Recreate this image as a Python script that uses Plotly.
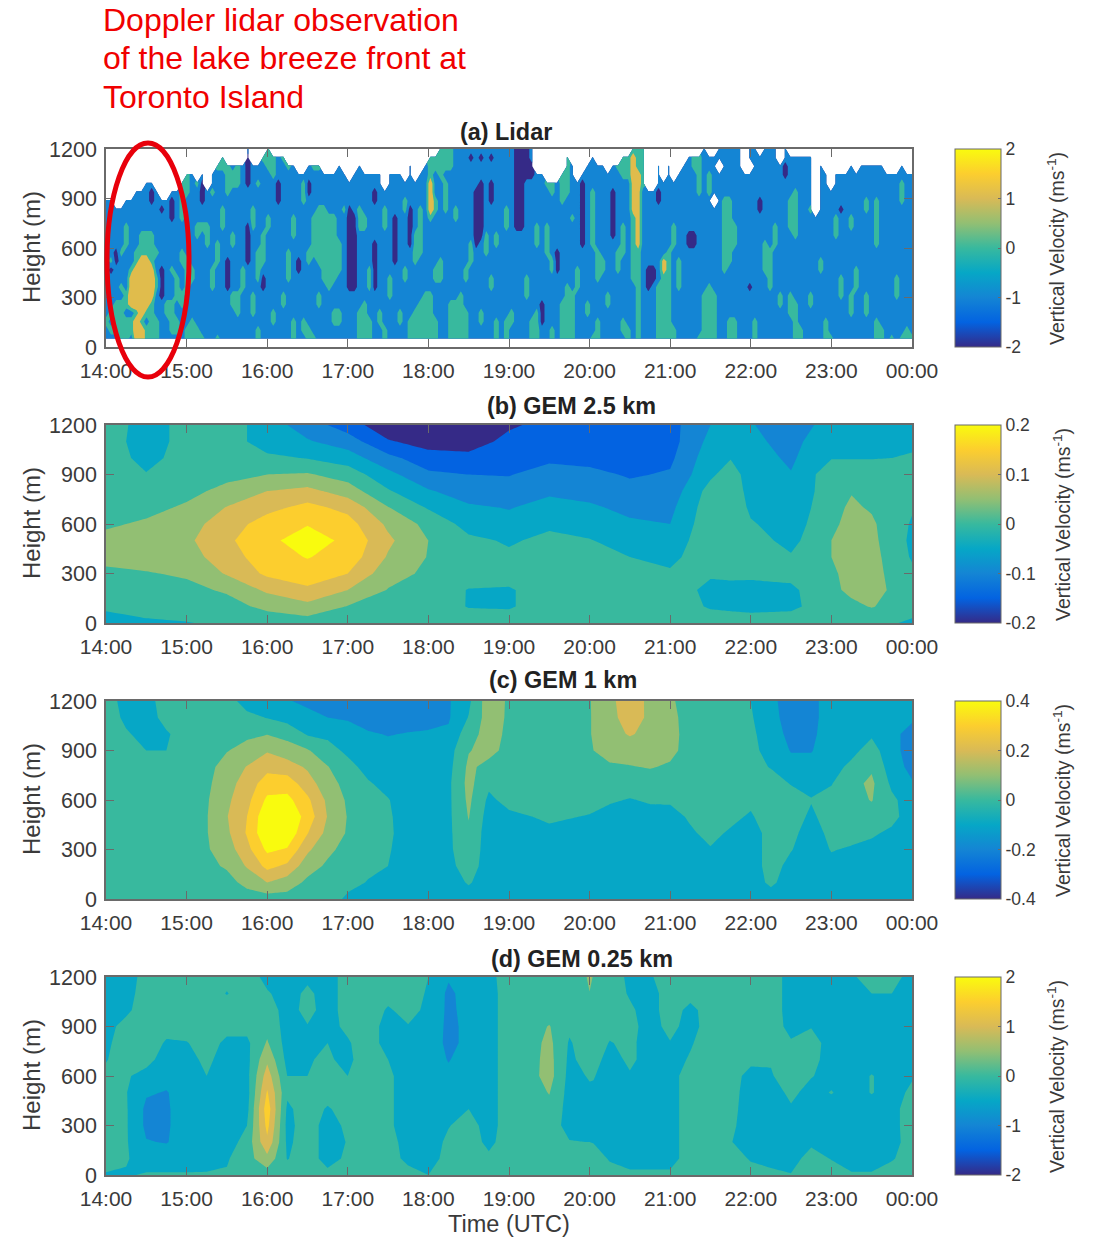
import numpy as np
import plotly.graph_objects as go

W, H = 1099, 1238

# ---------- shared scales ----------
hour_ticks = [14, 15, 16, 17, 18, 19, 20, 21, 22, 23, 24]
hour_labels = ["14:00", "15:00", "16:00", "17:00", "18:00", "19:00", "20:00", "21:00", "22:00", "23:00", "00:00"]
height_ticks = [0, 300, 600, 900, 1200]
heights = [0, 100, 200, 300, 400, 500, 600, 700, 800, 900, 1000, 1100, 1200]
parula = ["#352a87", "#0363e1", "#1485d4", "#06a7c6", "#38b99e", "#92bf73", "#d9ba56", "#fcce2e", "#f9fb0e"]
lidar_band_colours = ["#352a87", "#1485d4", "#38b99e", "#e0bc4c"]

# ---------- (a) lidar: one string per 3.75-min column, bottom (50 m) upward, one letter per height step ----------
lidar_values = {"n": -2.0, "b": -1.0, "g": 0.0, "o": 1.1, "y": 1.5, ".": None}
lidar_columns = [
    "bbgbbbbbbbbbbbbbb", "bgbgbbbbngbbbbbbb", "bggggbbbbnnbbbbb", "gggggbgbbbgbbbbb",
    "gggbggbbbbbgggbbb", "bggbyyyygbbbbbbbb", "yyygyyyyyggbbbbbbb", "yygyyyyyyygggbbbbb",
    "ggbgyyyyyygggbbbbbb", "gggggyyyyggggbbbnnb", "gggbbbggbbgbbbbbbb", "bbbbbnnnnbbbbbbnb",
    "bbbggbbbbbbbbbbbb", "bggggbbbgbbbbbnnnb", "bggbbgggbbbbbbbbbb", "bbbbggbbbggbbbggggg",
    "ggbbbbggggbbbbbbbggg", "gggbbbbggbbbbbbbbbbb", "ggbbbbbbbbbbggbbbbg", "gbbbbbbbbbbbbgbbnnnb",
    "bbbbbbbbbbbgggbbbb", "bbbbbbgggbbbbbbbbgbb", "gbbbbbbbbgggbbbbbbbbg", "bbbbbbbbbbbbbgggbbbbgg",
    "bbbbbbnnnnbbbbbbbgggg", "bbbbggbbbbbggbbbbbggb", "bbbgggbbbbbbbbbbbbggg", "bbbbbbgggbbbbbbbbbbbb",
    "bbbbbbbbbnnnnnbbbbnnnnb", "bbbgggbbbbbbbgggbbbbb", "ggbbbbbggggbbbbbbbgbb", "bbbbbbnnbggggbbbbbbbbg",
    "bbbbbbbbbbbbbggbbbbbggg", "bbggbbbbbbbbbbbbbbbggg", "bbbbbbbbbbbbbbbbnnnbbb", "bbbbggbbbbbbbbbbbbbbbg",
    "bbbbbbbggggbbbbbbbbbg", "gggbbbbbbbbbgggbbbbbb", "bbbbbbbbnnbbbbbbbbbb", "bggbbbbbbbbbbbbbgggb",
    "ggbbbbbbbggbbbbbbnnbb", "gbbbbbbbbbgggggbbbbbg", "bbbbggbbbgggggggbbbbg", "bbbbbbbgggggggggbbbb",
    "bbbbbbgggggggggbbbbb", "bbggbbbggggggggbbbbb", "bbggbbbbggggbbbbbbbbb", "bbbbbbbbbbbbbbbgbbbb.",
    "bbbbbbnnnnnnnnnnbbb", "bbbbbbnnnnnnnnnbbbbb", "ggggbbbbbbbbbgggbbbbb", "gggggbbbbbbbbggbbbbb",
    "gggbbbgggbbbbbbbbbbb", "bbbbbbnnnnnnbbbbnnbb", "bbggbbbbbbbbbbbbbbbb", "ggbbbbbbbbbbbgggbb",
    "bbbbbgggbbbbbbbbbbbb", "bbbbbbbbbnnnnnnbbbbb", "bbggbbbbbbbbbbbbbbbb", "bbbbbbbggbbbbbbggbb",
    "gggbbbbbbbbnnnnnbbbbb", "ggggbbbbbggggbbbbbb", "gggggbbbbbggggggbbbb", "ggggggbbbbbbbbbbbbbbb",
    "ggggggbbbbbbbbgyyyyggg", "gggbbbbggbbbbbbggbbbgg", "bbbbbbbgggbbbbbbbbbgggg", "bbbbbbbbbbbbbbbggggbggg",
    "gggggbbbbbbbbbbbbbbbggg", "gggggbbbbbbbbbggbbbbbbb", "ggggggbbbbbbbbbbbbbbbbb", "ggggbbbggbbbbbbbbbbbbbb",
    "bbbbbbbbbgggbbbbbbbbbnb", "bbbbbbbbbbbnnnnnnnbbbbb", "bbggbbbbbbbbnnnnnnnbbnb", "bbbbbbbbbbgggbbbbbbbbbb",
    "bbbbbbggbbbbbbbbnnnbbnb", "gggbbbbbbbbggbbbbbbbbbb", "bbbbbbbbbbbbbbbbbbbbbbb", "gggbbbbbbbbbbgggbbbbbbb",
    "bbggbbbbbbbbbbbbbbbbbbb", "bbbbbbbbbbbbbnnnnnnnnnn", "bbbbbbbbbbbbbnnnnnnnnnn", "bbbbbgggbbbbbbbbbbbnnnn",
    "gggbbbbbbbbbbbbbbbbnnbb", "ggggbbbbbbbgggbbbbbb", "bbnnnbbbbbbbbbbbbbbb", "bbbbbbbbbbggggbbbbg",
    "ggbbbbbbggbbbbbbbgg", "bbbbbbbbnnnbbbbbbbb", "gggggbbbbbbbbbbbgggg", "gggggggbbbbbbbbbbggggg",
    "ggggggbbbbbbbbgbbbbbb", "bbbbbbgggbbbbbbbbbb", "bbbbbbbbbbbnnnnnnnnb.", "bbbggbbbbbbbbbbbbbbbb",
    "gbbbbbbbbbbgggggggbbbb", "gggbbbbggggbbbbbbbbbb", "bbbbbbbbggbbbbbbbbbbb", "bbbbggbbbbbbbbbbbbbb",
    "bbbbbbbbbbbbnnnnnnbbb", "bbbbbbbbgggbbbbbbbbbg", "bggbbbbbbbggggbbbbbggg", "ggbbbbbbbbbbbbbbbbbggg",
    "bbbbbbbggggggggooooooog", "gggggggggggoooooooooggg", "bbbbbbbbbbbbbbbbbbggggg", "bbbbbbnnnbbbbbbbbb",
    "bbbbbbbnnbbbbbbbbb", "gggggggbbbbbbbbbnnbbb", "ggggggggoobbbbbbbbb", "gggggggggggbbbbbbbbbb",
    "ggbbbbbbbbbgggbbbbb", "bbbbbbggggbbbbbbbbbb", "bbbbbbbbbbbbbbbbbbbbb", "bbbbbbbbbbbnnbbbbbbbbb",
    "bbbbbbbbbbbnnbbbbbbbgg", "gbbbbbbbbbbbbbbbbggggg", "ggggggbbbbbbbbbbbbbbbbb", "gggggggbbbbbbbbbbgggbb",
    "ggggggbbbbbbbbbb.bbbbb", "bbbbbbbbbbbbbbbbbbbb.bb", "bbbbbbbbgggggggggbbbbbb", "gggbbbbbbggggggggbbbbbb",
    "gggbbbbbbbbgggbbbbbbbbb", "bbbbbbbbbbbbbbbbbbbbbbb", "bbbbbbbbbbbbbbbbbbbb", "bbbbbbnbbbbbbbbbbbbb.bb",
    "gggbbbbbbbbbbbbbbbbbbbb", "bbbbbbbbbbbbbbbnnbbbbb.", "bbbbbbbbggggbbbbbbbbbbb", "bbbbbbgggggbbbbbbbbbbbb",
    "bbbbbbbbbbbgggbbbbbbbbb", "bbbbggbbbbbbbbbbbbbbb..", "bbbbbbbbbbbbbbbbbbbnnbb", "bbbgggbbbbbbbggggbbbbb",
    "gggggbbbbbbbggggggbbbb", "ggbbbbbbbbbbbbbbbbbbbb", "bbbbbbbbbbbbbbbbbbbbbb", "bbbbggbbbbbbbbbgbbbbbb",
    "bbbbbbbbbbbbbbb", "bbbbbbbbggbbbbbbbbbbb", "gggbbbbbbbbbbbbbbbbb", "gbbbbbbbbbbbbbbbbb",
    "bbbbbbbbbbbbgggbbbbb", "bbbbbgggbbbbbbbnbbbb", "bbbbbbbbbbbbbbbbbbbb", "bbbgggbbbbbbbggbbbbbb",
    "bbbbbbgggbbbbbbbbbbb", "bbbbbbbbbbbbbbbbbbbbb", "bbbgggbbbbbbbbbggbbbb", "bbbbbbbbbbbbbbbbbbbbb",
    "gggbbbbbbbbggggggbbbb", "ggbbbbbbbbbbbbbbbbbbb", "bbbbbbbbbbbbbbbbbbbb", "gbbbbbbbbbbbbbbbbbbb",
    "bbbbbgggbbbbbbbbbbbb", "gbbbbbbbbbbbbbbbgggbb", "ggbbbbbbbbbbbbbbbbbb", "gbbbbbbbbbbbbbbbbbbb",
]

# ---------- (b) GEM 2.5 km: values in units of 0.05 m/s, one list per time, bottom to top ----------
gem25_step = 0.05
gem25_times = [14, 14.5, 15, 15.5, 16, 16.5, 17, 17.5, 18, 18.5, 19, 19.5, 20, 20.5, 21, 21.5, 21.75, 22, 22.5, 23, 23.25, 23.5, 24]
gem25_columns = [
    [-1, -.3, 0, .35, .7, .7, .4, .2, .1, 0, 0, -.1, 0],
    [-.7, 0, .2, .45, .8, 1, .6, .3, .1, -.45, -.8, -.9, -.9],
    [-.55, .05, .3, .6, 1.1, 1.3, 1.1, .6, .3, .1, -.1, -.2, -.2],
    [-.3, .2, .6, 1.6, 2, 2.3, 2, 1.55, .7, .3, 0, 0, 0],
    [0, .7, 1.7, 2.7, 3.1, 3.3, 2.95, 2.2, 1.5, .5, -.3, -1, -1],
    [0, 1.2, 2.3, 3.1, 3.55, 3.9, 3.45, 2.8, 1.8, .6, -.55, -1.4, -2],
    [0, .45, 1.5, 2.5, 3.1, 3.3, 2.9, 2.2, 1, .05, -1, -2, -3],
    [0, .2, .45, .9, 1.4, 1.7, 1.3, .55, -.4, -1.2, -2.2, -3.4, -4.2],
    [0, .05, .15, .3, .45, .5, .2, -.6, -1.4, -2.3, -3.1, -3.9, -4.3],
    [0, -.55, -.55, 0, 0, -.3, -.85, -1.35, -2, -2.5, -3.2, -4, -4.3],
    [0, -.6, -.6, -.1, -.35, -.6, -1.2, -1.55, -2.1, -2.55, -3, -3.2, -3.65],
    [0, 0, 0, 0, -.05, -.3, -.65, -1.2, -1.65, -2.1, -2.7, -3, -3.2],
    [0, 0, 0, 0, -.15, -.45, -.9, -1.35, -1.85, -2.25, -2.8, -3, -3],
    [0, 0, 0, -.2, -.5, -.9, -1.35, -1.75, -2.2, -2.6, -2.9, -3, -3],
    [0, 0, -.1, -.4, -.7, -1.1, -1.5, -1.75, -2.1, -2.4, -2.7, -2.9, -2.85],
    [0, -.6, -.7, -.4, 0, .2, .2, .1, -.1, -.7, -.9, -1.2, -1.5],
    [0, -.7, -.7, -.35, 0, .3, .3, .3, .2, 0, -.55, -.9, -1.2],
    [0, -.8, -.8, -.3, 0, -.1, -.4, -.7, -.9, -1, -1.1, -1.3, -1.45],
    [0, -.7, -.7, -.2, -.4, -.8, -1, -1.2, -1.35, -1.45, -1.65, -1.8, -1.9],
    [0, .05, .3, .4, .5, .5, .3, .2, .1, .1, -.55, -.8, -1.2],
    [0, .3, .7, .7, .75, .8, .8, .65, .45, .1, -.55, -.7, -.8],
    [-.1, .55, .8, .85, .85, .75, .65, .4, .2, .1, -.55, -.6, -.7],
    [-.7, 0, 0, -.3, -.6, -.7, -.6, -.4, 0, 0, -.45, -.6, -.6],
]

# ---------- (c) GEM 1 km: values in units of 0.1 m/s ----------
gem1_step = 0.1
gem1_times = [14, 14.25, 14.5, 14.75, 15, 15.25, 15.5, 15.75, 16, 16.25, 16.5, 16.75, 17, 17.25, 17.5, 17.75, 18, 18.25, 18.5, 18.75,
              19, 19.5, 20, 20.25, 20.5, 20.75, 21, 21.25, 21.5, 21.75, 22, 22.25, 22.5, 22.75, 23, 23.25, 23.5, 23.75, 24]
gem1_columns = [
    [0, 0, 0, 0, 0, 0, 0, 0, 0, 0, 0, 0, 0],
    [0, 0, 0, 0, 0, 0, 0, 0, 0, 0, -.4, -.7, -.9],
    [0, 0, 0, 0, 0, 0, 0, 0, 0, -.5, -.8, -.9, -.9],
    [0, 0, 0, 0, 0, 0, 0, 0, 0, -.5, -.6, -.2, 0],
    [0, 0, 0, 0, 0, 0, 0, 0, 0, -.1, -.1, 0, 0],
    [0, .1, .3, .4, .45, .45, .4, .3, .2, .1, 0, 0, 0],
    [0, .2, .6, 1, 1.3, 1.45, 1.3, 1.1, .9, .45, .2, .1, 0],
    [.1, .75, 1.6, 2.2, 2.6, 2.5, 2.2, 1.95, 1.55, .85, .3, -.2, -1],
    [0, 1.5, 2.8, 3.7, 4.4, 4.3, 3.7, 3, 2.2, 1.4, .45, -.55, -1.1],
    [.1, 1, 2.3, 3.4, 4.3, 4.4, 3.8, 3, 2, .9, .2, -.9, -1.4],
    [0, .3, .9, 1.7, 2.55, 3.1, 2.7, 2, 1.35, .6, -.6, -1.1, -1.8],
    [0, .1, .35, .7, 1.2, 1.45, 1.3, .85, .55, -.15, -.7, -1.5, -1.9],
    [-.7, -.2, 0, .2, .4, .45, .35, .2, -.2, -.7, -1.1, -1.6, -2],
    [-.9, -.55, -.3, -.1, 0, 0, -.2, -.4, -.8, -1, -1.4, -1.9, -2.1],
    [-1, -.8, -.5, -.4, -.3, -.35, -.45, -.8, -1, -1.2, -1.55, -2, -2.2],
    [-1, -1, -1, -1, -1, -1, -1, -1, -1, -1.2, -1.45, -1.9, -2],
    [-1, -1, -1, -1, -1, -1, -1, -1, -1, -1.1, -1.4, -1.8, -1.9],
    [-1, -1, -.8, -.7, -.7, -.7, -.7, -.7, -.8, -.9, -1.35, -1.6, -1.6],
    [-1, -.4, 0, .2, .35, .55, .7, .8, .7, .45, .1, -.45, -.7],
    [-1, -1, -1, -1, -1, -.9, -.7, -.3, .2, .8, .9, 1, 1.1],
    [-1, -1, -1, -1, -1, -.7, -.2, 0, .1, .2, .3, .35, .35],
    [-1, -1, -1, -1, -.7, -.35, -.1, 0, 0, 0, 0, 0, 0],
    [-1, -1, -1, -1, -.8, -.55, -.2, 0, 0, .4, .45, .45, .45],
    [-1, -1, -1, -1, -1, -.8, -.4, 0, .35, .9, 1.1, 1.1, 1.2],
    [-1, -1, -1, -1, -1, -.8, -.55, -.05, .45, .9, 1.6, 2.1, 2.2],
    [-1, -1, -1, -1, -1, -.8, -.4, .1, .55, .95, 1.2, 1.25, 1.2],
    [-1, -1, -1, -1, -1, -.75, -.4, .1, .4, .7, .75, .7, .6],
    [-1, -1, -1, -1, -.6, -.4, -.1, 0, .1, .2, .2, .2, .2],
    [-1, -1, -.7, -.55, -.3, -.1, 0, 0, 0, 0, 0, 0, 0],
    [-1, -1, -1, -.8, -.6, -.3, -.05, 0, 0, 0, 0, 0, 0],
    [-1, -1, -1, -1, -1, -.6, -.3, -.2, -.2, -.2, -.3, -.4, -.5],
    [-1, -.3, -.1, -.1, -.1, 0, 0, -.1, -.55, -.9, -1, -1.2, -1.3],
    [-1, -1, -.8, -.45, -.2, -.1, -.1, -.55, -1.2, -1.55, -1.8, -1.9, -1.9],
    [-1, -1, -1, -1, -1, -.65, -.45, -.8, -1.2, -1.55, -1.7, -1.8, -1.8],
    [-1, -1, -.75, -.45, -.2, -.1, -.2, -.55, -.9, -1, -1, -1, -1],
    [-1, -1, -1, -.6, -.2, 0, .15, .2, -.25, -.8, -1, -1, -1],
    [-1, -1, -1, -.8, -.35, .1, .55, .7, .35, -.05, -.65, -1, -1],
    [-1, -1, -1, -1, -.7, -.2, -.3, -.7, -1, -1.2, -1.2, -1.1, -1],
    [-1, -1, -1, -1, -1, -1, -1, -1.4, -1.8, -1.9, -1.9, -1.3, -1.1],
]

# ---------- (d) GEM 0.25 km: values in units of 0.5 m/s ----------
gem025_step = 0.5
gem025_times = [14, 14.25, 14.5, 14.75, 15, 15.25, 15.5, 15.75, 16, 16.25, 16.5, 16.75, 17, 17.25, 17.5, 17.75, 18, 18.25, 18.5, 18.75,
                19, 19.25, 19.5, 19.75, 19.95, 20, 20.05, 20.25, 20.5, 20.75, 21, 21.25, 21.5, 21.75, 22, 22.25, 22.5, 22.75, 23, 23.25, 23.5, 23.75, 24]
gem025_columns = [
    [-.6, 0, 0, 0, 0, 0, -.3, -.55, -.7, -.8, -.9, -1, -1],
    [-.6, -.4, -.4, -.4, -.4, -.45, -.4, -.1, 0, -.2, -.7, -.9, -1],
    [-.4, -1, -1.45, -1.7, -1.7, -1.4, -.8, -.2, 0, 0, 0, 0, -.1],
    [-.4, -1, -1.55, -1.6, -1.6, -1.55, -1.2, -.9, -.6, -.2, 0, 0, 0],
    [-.4, -1, -1.1, -1.1, -1.1, -1.1, -1, -.8, -.55, -.1, 0, 0, 0],
    [-.4, -.9, -1, -1, -1, -.8, -.5, -.3, -.1, 0, 0, 0, -.1],
    [-.4, -.6, -1, -1, -1, -1, -1, -.9, -.7, -.2, 0, -.55, -.2],
    [0, .1, -.1, -.5, -.8, -.9, -.8, -.8, -.7, -.2, 0, 0, 0],
    [0, 1.2, 2.3, 2.8, 3.1, 2.6, 2, 1.3, .6, .2, 0, -.4, -.8],
    [0, -.55, -.7, -.8, -.7, -.3, -.5, -.8, -.9, -.9, -.9, -.9, -.9],
    [0, 0, 0, 0, 0, -.1, -.5, -.55, -.6, -.55, -.2, -.3, -.7],
    [-.2, -.9, -.9, -.9, -.6, -.1, -.2, -.4, -.5, -.8, -.9, -.9, -.9],
    [0, -.3, -.45, -.3, -.1, -.2, -.5, -.7, -.6, -.3, -.1, -.1, -.1],
    [0, 0, 0, 0, 0, 0, 0, 0, 0, 0, 0, 0, 0],
    [0, 0, 0, -.3, -.3, -.3, -.3, -.5, -.9, -.9, -.6, -.2, 0],
    [-.1, -.8, -1, -1, -1, -1, -1, -1, -.9, -.55, -.2, -.1, 0],
    [-.5, -1, -1, -1, -1, -1, -1, -1, -1, -.9, -.7, -.6, -.5],
    [0, -.1, -.3, -.55, -.8, -1, -1.3, -1.55, -1.7, -1.7, -1.7, -1.7, -1.4],
    [0, 0, 0, -.1, -.5, -.9, -1, -1.1, -1.3, -1.3, -1.2, -1.1, -1],
    [0, -.3, -.75, -.9, -.9, -.9, -.9, -.9, -.9, -.9, -.9, -.9, -.8],
    [0, 0, 0, 0, 0, 0, 0, 0, 0, 0, 0, 0, 0],
    [0, 0, 0, 0, 0, 0, .1, .1, .1, .1, 0, 0, 0],
    [0, 0, 0, 0, .2, .55, .9, .85, .75, .55, .1, 0, 0],
    [0, -.1, -.45, -.85, -.85, -.85, -.8, -.7, -.6, -.3, 0, 0, 0],
    [0, 0, -.5, -.9, -.9, -.75, -.5, -.2, -.05, 0, 0, 0, 0],
    [0, 0, -.5, -.9, -.9, -.7, -.4, -.1, 0, 0, 0, .3, 2],
    [0, 0, -.55, -.9, -.9, -.65, -.45, -.1, 0, 0, 0, 0, 0],
    [-.1, -.6, -.9, -.9, -.9, -.9, -.9, -.9, -.55, -.2, 0, 0, 0],
    [-.3, -.9, -.9, -.9, -.9, -.9, -.6, -.3, -.3, -.2, -.35, -.6, -.7],
    [-.3, -.9, -.9, -.9, -.9, -.9, -.9, -.9, -.9, -.9, -.9, -.9, -.6],
    [-.3, -.9, -.9, -.9, -.9, -.9, -.9, -.9, -.55, -.2, 0, 0, 0],
    [0, 0, 0, 0, 0, 0, 0, -.4, -.6, -.9, -.8, -.1, 0],
    [0, 0, 0, 0, 0, 0, 0, 0, 0, 0, 0, 0, 0],
    [0, 0, -.45, -.3, -.2, -.1, 0, 0, 0, 0, 0, 0, 0],
    [-.1, -.6, -1, -1, -1, -1, -.9, -.2, 0, 0, 0, 0, 0],
    [-.2, -.9, -.9, -.9, -.9, -.9, -.55, -.45, 0, 0, 0, 0, 0],
    [-.45, -.9, -.9, -.9, -.6, -.3, -.2, -.2, -.4, -.8, -.9, -.9, -.9],
    [0, -.1, -.7, -.9, -.9, -.8, -.45, -.2, -.1, -.55, -.9, -.9, -.9],
    [0, -.55, -.9, -.9, -.9, -.45, -.8, -.9, -.9, -.9, -.9, -.9, -.9],
    [-.4, -.9, -.9, -.9, -.9, -.9, -.9, -.9, -.9, -.9, -.9, -.9, -.6],
    [-.4, -.9, -.9, -.9, -.9, -.45, -.45, -.9, -.9, -.9, -.8, -.5, -.2],
    [0, -.6, -.9, -.9, -.9, -.9, -.9, -.9, -.9, -.9, -.9, -.5, -.2],
    [0, 0, 0, .1, .1, -.3, -.6, -.9, -.9, -.9, -.9, -.9, -.8],
]

panel_titles = ["(a) Lidar", "(b) GEM 2.5 km", "(c) GEM 1 km", "(d) GEM 0.25 km"]
panel_bar_ticks = [[-2, -1, 0, 1, 2], [-0.2, -0.1, 0, 0.1, 0.2], [-0.4, -0.2, 0, 0.2, 0.4], [-2, -1, 0, 1, 2]]
panel_bar_labels = [["-2", "-1", "0", "1", "2"], ["-0.2", "-0.1", "0", "0.1", "0.2"],
                    ["-0.4", "-0.2", "0", "0.2", "0.4"], ["-2", "-1", "0", "1", "2"]]
annotation_lines = ["Doppler lidar observation", "of the lake breeze front at", "Toronto Island"]

# ---------- layout geometry (pixels) ----------
X0, X1 = 106, 912
PANEL_TOP = [149, 425, 701, 977]
PANEL_H = 198
TITLE_CX = [506, 571, 563, 582]
TITLE_CY = [132, 406, 680, 959]
BAR_TITLE_X = [1056, 1062, 1062, 1056]
BAR_X, BAR_W = 955, 46
FONT = "Liberation Sans, Arial, sans-serif"
TXT = "#3a3a3a"
AXC = "#6a6a6a"
scale = [[i / 8, c] for i, c in enumerate(parula)]


def px(x):
    return x / W


def py(y):
    return 1 - y / H


fig = go.Figure()

# (a)
n_rows = 23
row_heights = np.linspace(50, 1200, n_rows).tolist()
col_hours = np.linspace(14, 24, len(lidar_columns)).tolist()
lidar_z = np.full((n_rows, len(lidar_columns)), np.nan)
for k, col in enumerate(lidar_columns):
    for r, ch in enumerate(col[:n_rows]):
        v = lidar_values[ch]
        lidar_z[r, k] = np.nan if v is None else v
lidar_scale = [[i / 3, c] for i, c in enumerate(lidar_band_colours)]
fig.add_trace(go.Contour(x=col_hours, y=row_heights, z=lidar_z.tolist(), colorscale=lidar_scale, showscale=False,
                         autocontour=False, connectgaps=False,
                         contours=dict(start=-1.5, end=0.5, size=1, coloring="fill", showlines=False),
                         line=dict(width=0, smoothing=0), xaxis="x", yaxis="y"))

# (b)-(d)
panels = [(gem25_times, gem25_columns, gem25_step), (gem1_times, gem1_columns, gem1_step), (gem025_times, gem025_columns, gem025_step)]
for i, (times, cols, step) in enumerate(panels):
    z = (np.array(cols, dtype=float).T * step).tolist()
    fig.add_trace(go.Contour(x=times, y=heights, z=z, colorscale=scale, showscale=False, autocontour=False,
                             contours=dict(start=-3.5 * step, end=3.5 * step, size=step, coloring="fill", showlines=False),
                             line=dict(width=0, smoothing=0), xaxis=f"x{i + 2}", yaxis=f"y{i + 2}"))

# colour bars
for i, top in enumerate(PANEL_TOP):
    ticks = panel_bar_ticks[i]
    axis_suffix = "" if i == 0 else str(i + 1)
    fig.add_trace(go.Scatter(
        x=[None], y=[None], mode="markers", showlegend=False, xaxis="x" + axis_suffix, yaxis="y" + axis_suffix,
        marker=dict(color=[0], cmin=ticks[0], cmax=ticks[-1], colorscale=scale, showscale=True,
                    colorbar=dict(x=px(BAR_X), xanchor="left", xpad=0, ypad=0, y=py(top + PANEL_H / 2), yanchor="middle",
                                  len=PANEL_H / H, lenmode="fraction", thickness=BAR_W, thicknessmode="pixels",
                                  outlinecolor=AXC, outlinewidth=1, borderwidth=0,
                                  tickmode="array", tickvals=ticks, ticktext=panel_bar_labels[i], ticks="inside",
                                  ticklen=3, tickcolor=AXC, tickfont=dict(family=FONT, size=17.5, color=TXT)))))

layout = dict(width=W, height=H, margin=dict(l=0, r=0, t=0, b=0, autoexpand=False), paper_bgcolor="white",
              plot_bgcolor="white", showlegend=False, font=dict(family=FONT, color=TXT))
annots = []
for i, top in enumerate(PANEL_TOP):
    s = "" if i == 0 else str(i + 1)
    layout["xaxis" + s] = dict(domain=[px(X0), px(X1)], range=[14, 24], anchor="y" + s, tickmode="array", tickvals=hour_ticks,
                               ticktext=hour_labels, ticks="inside", ticklen=8, tickcolor=AXC, tickwidth=1, showline=True,
                               linecolor=AXC, linewidth=1.5, mirror="allticks", showgrid=False, zeroline=False,
                               tickfont=dict(family=FONT, size=21, color=TXT), tickangle=0, ticklabelstandoff=4)
    layout["yaxis" + s] = dict(domain=[py(top + PANEL_H), py(top)], range=[0, 1200], anchor="x" + s, tickmode="array",
                               tickvals=height_ticks, ticktext=[str(v) for v in height_ticks], ticks="inside", ticklen=8,
                               tickcolor=AXC, tickwidth=1, showline=True, linecolor=AXC, linewidth=1.5, mirror="allticks",
                               showgrid=False, zeroline=False, tickfont=dict(family=FONT, size=21.5, color=TXT),
                               ticklabelstandoff=3)
    annots.append(dict(text=f"<b>{panel_titles[i]}</b>", x=px(TITLE_CX[i]), y=py(TITLE_CY[i]), xref="paper", yref="paper",
                       showarrow=False, xanchor="center", yanchor="middle", font=dict(family=FONT, size=23.4, color="#222")))
    annots.append(dict(text="Height (m)", x=px(31), y=py(top + 98), xref="paper", yref="paper", showarrow=False, textangle=-90,
                       xanchor="center", yanchor="middle", font=dict(family=FONT, size=24, color=TXT)))
    annots.append(dict(text="Vertical Velocity (ms<sup>-1</sup>)", x=px(BAR_TITLE_X[i]), y=py(top + 100), xref="paper", yref="paper",
                       showarrow=False, textangle=-90, xanchor="center", yanchor="middle",
                       font=dict(family=FONT, size=19.5, color=TXT)))
annots.append(dict(text="Time (UTC)", x=px(509), y=py(1224), xref="paper", yref="paper", showarrow=False,
                   xanchor="center", yanchor="middle", font=dict(family=FONT, size=23.5, color=TXT)))
for line, cy in zip(annotation_lines, [20, 58, 97]):
    annots.append(dict(text=line, x=px(101), y=py(cy), xref="paper", yref="paper", showarrow=False,
                       xanchor="left", yanchor="middle", font=dict(family=FONT, size=32, color="#f00000")))
layout["annotations"] = annots
layout["shapes"] = [dict(type="circle", xref="paper", yref="paper", x0=px(107), x1=px(189), y0=py(377), y1=py(143),
                         line=dict(color="#e8000b", width=5), layer="above")]
fig.update_layout(**layout)
fig.write_html("out.html", post_script="document.body.style.margin='0';", config=dict(displayModeBar=False))
